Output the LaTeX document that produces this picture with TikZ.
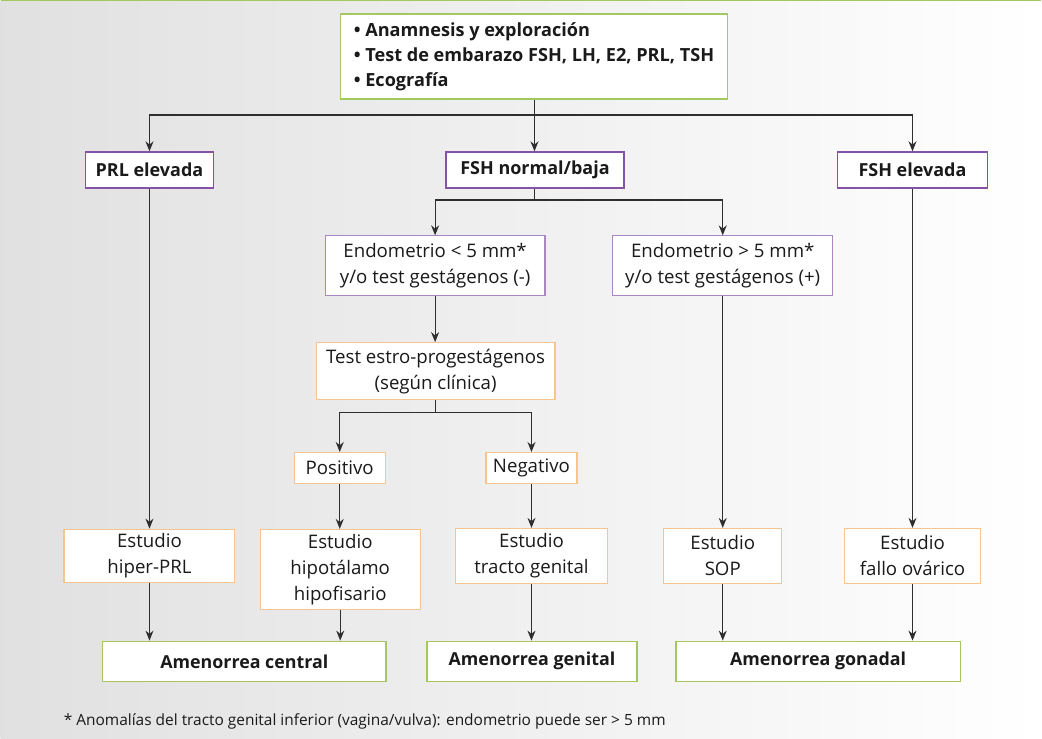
\documentclass[tikz,border=0pt]{standalone}
\usepackage{fontspec}
\setmainfont{Open Sans}
\usetikzlibrary{arrows.meta, positioning, calc}
\definecolor{amgreen}{HTML}{A3C860}
\definecolor{ampurple}{HTML}{8553A3}
\definecolor{amorange}{HTML}{F5C58E}
\definecolor{amline}{HTML}{2E2E2E}
\definecolor{amtext}{HTML}{1A1A1A}

\begin{document}
\begin{tikzpicture}[
  x=0.75pt, y=-0.75pt,
  every node/.style={font=\fontsize{14}{19.5}\selectfont, text=amtext},
  topnode/.style={rectangle, draw=amgreen, fill=white, line width=1.1pt, align=left, minimum width=291pt, minimum height=63.75pt},
  labnode/.style={rectangle, draw=ampurple, fill=white, line width=1pt, align=center, minimum height=27pt, font=\fontsize{13.5}{19}\selectfont\bfseries},
  endonode/.style={rectangle, draw=ampurple!70, fill=white, line width=0.8pt, align=center, minimum width=165pt, minimum height=45pt},
  studynode/.style={rectangle, draw=amorange, fill=white, line width=0.9pt, align=center},
  resnode/.style={rectangle, draw=amgreen, fill=white, line width=1.1pt, align=center, minimum height=30pt, font=\fontsize{13.4}{19}\selectfont\bfseries},
  arr/.style={-{Stealth[length=7.5pt, width=6pt]}, amline, line width=0.9pt},
  ln/.style={amline, line width=0.9pt},
]

% background
\shade[left color=black!12, middle color=black!3, right color=white] (0,0) rectangle (1042,739);
\draw[amgreen, line width=1pt] (0,0.5) -- (1042,0.5);
\useasboundingbox (0,0) rectangle (1042,739);

% first level
\node[topnode, font=\fontsize{13.6}{18.75}\selectfont\bfseries] (exam) at (534,56.5) {\textbullet\ Anamnesis y exploración\\\textbullet\ Test de embarazo FSH, LH, E2, PRL, TSH\\\textbullet\ Ecografía};

\node[labnode, minimum width=96pt] (prl) at (149,170) {PRL elevada};
\node[labnode, minimum width=133.5pt] (fshn) at (535,170) {FSH normal/baja};
\node[labnode, minimum width=112.5pt] (fshe) at (913,170) {FSH elevada};

\coordinate (split1) at (534.5,115);
\draw[ln] (exam.south -| split1) -- (split1);
\draw[arr] (split1) -| (prl);
\draw[arr] (split1) -- (split1 |- fshn.north);
\draw[arr] (split1) -| (fshe);

% FSH normal/baja branch
\node[endonode] (endolo) at (435,266) {Endometrio < 5 mm*\\y/o test gestágenos (-)};
\node[endonode] (endohi) at (723,266) {Endometrio > 5 mm*\\y/o test gestágenos (+)};

\coordinate (split2) at (534.5,200);
\draw[ln] (fshn.south -| split2) -- (split2);
\draw[arr] (split2) -| (endolo);
\draw[arr] (split2) -| (endohi);

\node[studynode, minimum width=179.25pt, minimum height=42.75pt] (estro) at (435.5,371.5) {Test estro-progestágenos\\(según clínica)};
\draw[arr] (endolo) -- (endolo |- estro.north);

\node[studynode, minimum width=68.25pt, minimum height=23.25pt] (pos) at (339.5,468.5) {Positivo};
\node[studynode, minimum width=68.25pt, minimum height=23.25pt] (neg) at (531.5,468.5) {Negativo};

\coordinate (split3) at (435,413);
\draw[ln] (estro.south -| split3) -- (split3);
\draw[arr] (split3) -| (pos);
\draw[arr] (split3) -| (neg);

% studies
\node[studynode, minimum width=128.25pt, minimum height=38.25pt] (hiper) at (149,556.5) {Estudio\\hiper-PRL};
\node[studynode, minimum width=120pt, minimum height=60pt] (hipo) at (340,570) {Estudio\\hipotálamo\\hipofisario};
\node[studynode, minimum width=114pt, minimum height=41.25pt] (tracto) at (531.5,556.5) {Estudio\\tracto genital};
\node[studynode, minimum width=88.5pt, minimum height=41.25pt] (sop) at (723,556.5) {Estudio\\SOP};
\node[studynode, minimum width=102pt, minimum height=41.25pt] (fallo) at (913,556.5) {Estudio\\fallo ovárico};

\draw[arr] (prl) -- (prl |- hiper.north);
\draw[arr] (pos) -- (pos |- hipo.north);
\draw[arr] (neg) -- (neg |- tracto.north);
\draw[arr] (endohi) -- (endohi |- sop.north);
\draw[arr] (fshe) -- (fshe |- fallo.north);

% results
\node[resnode, minimum width=213pt] (central) at (244,662) {Amenorrea central};
\node[resnode, minimum width=157.5pt] (genital) at (532,662) {Amenorrea genital};
\node[resnode, minimum width=213.75pt] (gonadal) at (818.5,662) {Amenorrea gonadal};

\draw[arr] (hiper) -- (hiper |- central.north);
\draw[arr] (hipo) -- (hipo |- central.north);
\draw[arr] (tracto) -- (tracto |- genital.north);
\draw[arr] (sop) -- (sop |- gonadal.north);
\draw[arr] (fallo) -- (fallo |- gonadal.north);

% footnote
\node[anchor=base west, font=\fontsize{11.6}{14}\selectfont, inner sep=0pt] (note) at (63,726) {* Anomalías del tracto genital inferior (vagina/vulva): endometrio puede ser > 5 mm};

\end{tikzpicture}
\end{document}
